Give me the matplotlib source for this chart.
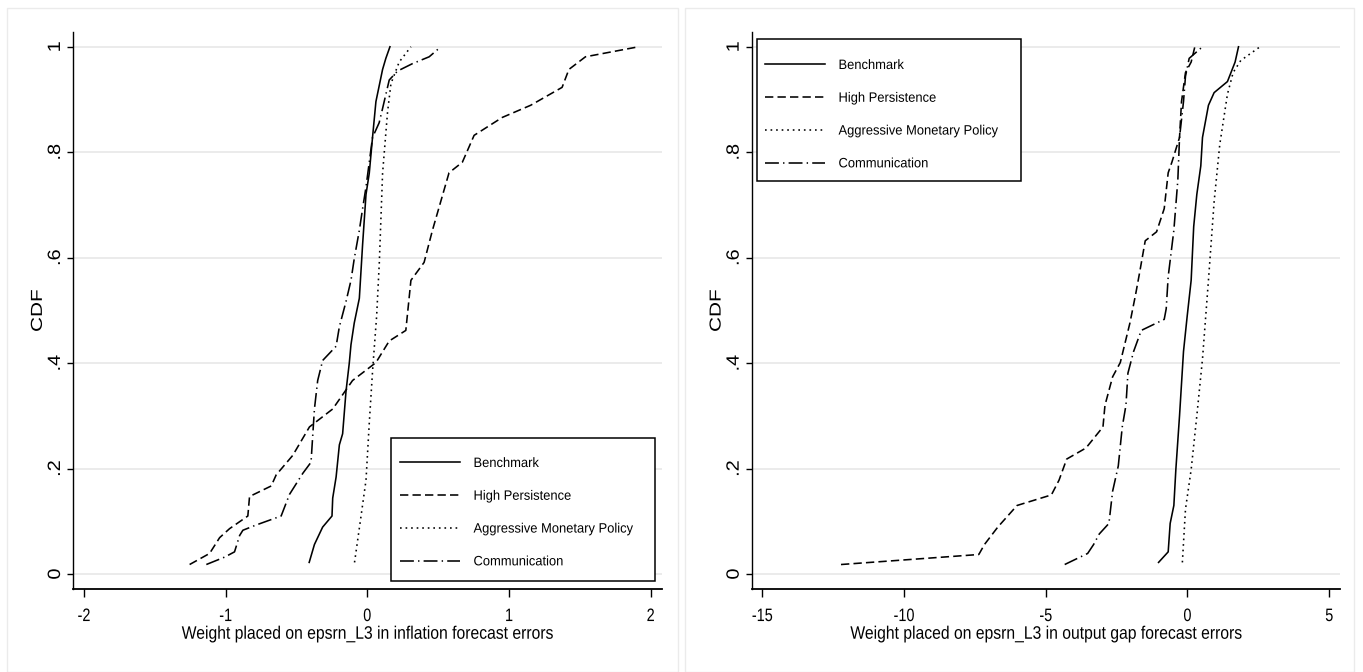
import matplotlib
matplotlib.use("Agg")
import matplotlib.pyplot as plt
from matplotlib.patches import Rectangle
from matplotlib.patheffects import AbstractPathEffect
from matplotlib.transforms import Affine2D

plt.rcParams['font.family'] = ['Liberation Sans', 'DejaVu Sans']
plt.rcParams['lines.scale_dashes'] = False

# ---- data: traced CDF vertices (x = weight, y = CDF) ----
# left panel: inflation forecast errors
bench_inf_x = [-0.41, -0.373, -0.315, -0.249, -0.244, -0.220, -0.197, -0.174, -0.150, -0.127,
               -0.115, -0.092, -0.056, -0.033, -0.009, 0.014, 0.037, 0.061, 0.108, 0.131, 0.160]
bench_inf_y = [0.022, 0.056, 0.089, 0.110, 0.144, 0.184, 0.245, 0.266, 0.347, 0.400,
               0.435, 0.476, 0.523, 0.625, 0.720, 0.760, 0.828, 0.896, 0.957, 0.978, 1.0]

hp_inf_x = [-1.254, -1.113, -1.042, -0.972, -0.843, -0.831, -0.678, -0.643, -0.526, -0.408,
            -0.244, -0.104, 0.061, 0.155, 0.272, 0.308, 0.401, 0.460, 0.577, 0.671,
            0.754, 0.953, 1.153, 1.375, 1.423, 1.540, 1.915]
hp_inf_y = [0.018, 0.039, 0.069, 0.086, 0.110, 0.147, 0.167, 0.188, 0.225, 0.279,
            0.313, 0.367, 0.401, 0.442, 0.462, 0.557, 0.591, 0.652, 0.761, 0.781,
            0.832, 0.866, 0.889, 0.923, 0.957, 0.981, 1.0]

agg_inf_x = [-0.090, -0.044, -0.009, 0.014, 0.038, 0.066, 0.085, 0.108, 0.143, 0.167, 0.225, 0.308]
agg_inf_y = [0.022, 0.110, 0.178, 0.286, 0.388, 0.489, 0.591, 0.760, 0.876, 0.930, 0.971, 1.0]

com_inf_x = [-1.136, -1.007, -0.937, -0.901, -0.878, -0.784, -0.608, -0.549, -0.455, -0.397,
             -0.373, -0.350, -0.315, -0.220, -0.197, -0.150, -0.115, -0.092, -0.056, -0.033,
             -0.009, 0.014, 0.037, 0.084, 0.108, 0.155, 0.214, 0.319, 0.437, 0.519]
com_inf_y = [0.018, 0.032, 0.042, 0.073, 0.083, 0.093, 0.110, 0.151, 0.191, 0.212,
             0.313, 0.367, 0.405, 0.432, 0.469, 0.517, 0.557, 0.598, 0.652, 0.693,
             0.734, 0.781, 0.828, 0.856, 0.883, 0.937, 0.954, 0.968, 0.981, 1.0]

# right panel: output gap forecast errors
bench_gap_x = [-1.02, -0.68, -0.61, -0.48, -0.41, -0.28, -0.14, -0.01, 0.13, 0.22,
               0.33, 0.47, 0.53, 0.74, 0.94, 1.41, 1.68, 1.80]
bench_gap_y = [0.022, 0.042, 0.096, 0.130, 0.198, 0.300, 0.422, 0.489, 0.557, 0.659,
               0.720, 0.774, 0.828, 0.889, 0.913, 0.934, 0.971, 1.0]

hp_gap_x = [-12.22, -7.36, -7.16, -6.69, -6.01, -4.80, -4.53, -4.26, -3.58, -2.98,
            -2.91, -2.64, -2.37, -2.03, -1.83, -1.69, -1.49, -1.09, -0.82, -0.68,
            -0.55, -0.28, -0.21, -0.07, 0.13, 0.26]
hp_gap_y = [0.018, 0.037, 0.056, 0.089, 0.130, 0.150, 0.178, 0.218, 0.239, 0.279,
            0.320, 0.374, 0.401, 0.476, 0.530, 0.571, 0.632, 0.649, 0.693, 0.761,
            0.781, 0.828, 0.896, 0.951, 0.971, 1.0]

agg_gap_x = [-0.18, -0.07, 0.13, 0.33, 0.53, 0.74, 0.94, 1.14, 1.41, 1.61, 1.88, 2.56]
agg_gap_y = [0.022, 0.123, 0.198, 0.300, 0.408, 0.557, 0.706, 0.815, 0.910, 0.951, 0.974, 1.0]

com_gap_x = [-4.33, -3.52, -3.31, -3.11, -2.77, -2.64, -2.44, -2.30, -2.17, -2.10,
             -1.90, -1.63, -0.82, -0.75, -0.68, -0.48, -0.34, -0.28, -0.14, -0.07,
             0.06, 0.53]
com_gap_y = [0.018, 0.039, 0.056, 0.076, 0.096, 0.157, 0.205, 0.279, 0.320, 0.381,
             0.422, 0.462, 0.483, 0.503, 0.564, 0.652, 0.747, 0.828, 0.896, 0.944,
             0.978, 1.0]

labels = ["Benchmark", "High Persistence", "Aggressive Monetary Policy", "Communication"]
y_ticks = [0, 0.2, 0.4, 0.6, 0.8, 1]
y_ticklabels = ["0", ".2", ".4", ".6", ".8", "1"]
inf_ticks = [-2, -1, 0, 1, 2]
gap_ticks = [-15, -10, -5, 0, 5]

styles = [dict(linestyle='-'),
          dict(linestyle=(0, (6, 3))),
          dict(linestyle=(0, (1.2, 2.8))),
          dict(linestyle=(0, (10, 3, 1, 3)))]


class Squeeze(AbstractPathEffect):
    """squash text along its own baseline (stata's narrow look)"""
    def __init__(self, k, anchor='center'):
        super().__init__()
        self.k = k
        self.anchor = anchor

    def draw_path(self, renderer, gc, tpath, affine, rgbFace=None):
        ext = tpath.get_extents()
        cx = 0.0 if self.anchor == 'left' else (ext.x0 + ext.x1) / 2
        t = Affine2D().translate(-cx, 0).scale(self.k, 1).translate(cx, 0) + affine
        renderer.draw_path(gc, tpath, t, rgbFace)


W, H = 1363, 672
fig = plt.figure(figsize=(W / 100, H / 100), dpi=100)

# light panel frames
for x0, x1 in [(7, 678), (685, 1354)]:
    fig.patches.append(Rectangle((x0 / W, 0), (x1 - x0) / W, 1 - 8 / H, transform=fig.transFigure,
                                 fill=False, edgecolor='#ebebeb', linewidth=1.0))

AX_BOTTOM, AX_H = 589.3, 557.3


def panel(ax, series, xlim, xticks, xlabel, ax_left, ax_w, frame_px, handle_px):
    for (xs, ys), st, lab in zip(series, styles, labels):
        ax.plot(xs, ys, color='black', linewidth=1.15, label=lab, **st)
    ax.set_xlim(*xlim)
    ax.set_ylim(-0.029, 1.028)
    ax.set_xticks(xticks)
    ax.set_xticklabels([str(t) for t in xticks], fontsize=13)
    ax.set_yticks(y_ticks)
    ax.set_yticklabels(y_ticklabels, fontsize=12.8, rotation=90, va='center')
    ax.grid(axis='y', color='#e8e8e8', linewidth=1.2)
    ax.set_axisbelow(True)
    for s in ['top', 'right']:
        ax.spines[s].set_visible(False)
    ax.spines['left'].set_linewidth(1.0)
    ax.spines['bottom'].set_linewidth(1.3)
    ax.tick_params(axis='x', length=5.5, width=1, pad=8)
    ax.tick_params(axis='y', length=4.5, width=1, pad=2)
    ax.set_xlabel(xlabel, fontsize=13, labelpad=0.5)
    ax.set_ylabel("CDF", fontsize=11.5, labelpad=1.5)
    for t in ax.get_xticklabels():
        t.set_path_effects([Squeeze(0.8)])
    for t in ax.get_yticklabels():
        t.set_path_effects([Squeeze(1.12)])
    ax.xaxis.label.set_path_effects([Squeeze(0.87)])
    ax.yaxis.label.set_path_effects([Squeeze(1.3)])

    # legend frame (white box) + entries
    fx0, fy0, fx1, fy1 = frame_px
    ax.add_patch(Rectangle(((fx0 - ax_left) / ax_w, (AX_BOTTOM - fy1) / AX_H),
                           (fx1 - fx0) / ax_w, (fy1 - fy0) / AX_H, transform=ax.transAxes,
                           facecolor='white', edgecolor='black', linewidth=1.1, zorder=4))
    hx, hy = handle_px
    leg = ax.legend(fontsize=9.8, frameon=False, loc='upper left',
                    bbox_to_anchor=((hx - ax_left) / ax_w, (AX_BOTTOM - hy) / AX_H),
                    handlelength=4.4, handletextpad=1.0, labelspacing=1.38, borderpad=0,
                    borderaxespad=0)
    leg.set_zorder(5)
    for t in leg.get_texts():
        t.set_path_effects([Squeeze(0.95, 'left')])


ax1 = fig.add_axes([73 / W, 1 - AX_BOTTOM / H, 588.7 / W, AX_H / H])
panel(ax1, [(bench_inf_x, bench_inf_y), (hp_inf_x, hp_inf_y), (agg_inf_x, agg_inf_y), (com_inf_x, com_inf_y)],
      (-2.077, 2.078), inf_ticks, "Weight placed on epsrn_L3 in inflation forecast errors",
      73, 588.7, (391, 438, 655, 581), (400, 456))

ax2 = fig.add_axes([751.7 / W, 1 - AX_BOTTOM / H, 588.3 / W, AX_H / H])
panel(ax2, [(bench_gap_x, bench_gap_y), (hp_gap_x, hp_gap_y), (agg_gap_x, agg_gap_y), (com_gap_x, com_gap_y)],
      (-15.37, 5.38), gap_ticks, "Weight placed on epsrn_L3 in output gap forecast errors",
      751.7, 588.3, (757, 39, 1021, 181), (765, 58))

fig.savefig("out.png", dpi=100)
